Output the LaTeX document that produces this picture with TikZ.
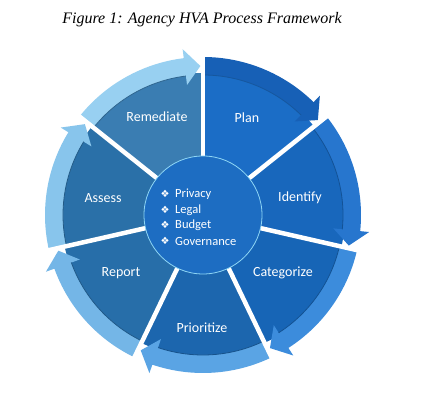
\documentclass[tikz,border=0pt]{standalone}
\usepackage{fontspec}
\setmainfont{Liberation Serif}
\newfontfamily\carlito{Carlito}
\newfontfamily\dejavu{DejaVu Sans}
\definecolor{planB}{HTML}{1B6DC6}
\definecolor{planA}{HTML}{1760B6}
\definecolor{idenB}{HTML}{1867BC}
\definecolor{idenA}{HTML}{2776CE}
\definecolor{cateB}{HTML}{1765B6}
\definecolor{cateA}{HTML}{3C8CDC}
\definecolor{prioB}{HTML}{1C66AE}
\definecolor{prioA}{HTML}{5AA4E4}
\definecolor{repoB}{HTML}{276EA9}
\definecolor{repoA}{HTML}{74B6E7}
\definecolor{asseB}{HTML}{2A70A8}
\definecolor{asseA}{HTML}{88C5EC}
\definecolor{remeB}{HTML}{3A7DB2}
\definecolor{remeA}{HTML}{98D0F1}
\definecolor{hubC}{HTML}{1D6DC2}
\definecolor{ringC}{HTML}{8ED6F5}
\begin{document}
\begin{tikzpicture}[x=1pt,y=1pt,
  lbl/.style={font=\carlito\fontsize{14}{16}\selectfont, text=white, inner sep=0pt},
  item/.style={font=\carlito\fontsize{12.5}{14}\selectfont, text=white, inner sep=0pt, anchor=west},
  bul/.style={font=\dejavu\fontsize{10}{11}\selectfont, text=white, inner sep=0pt},
  gapline/.style={white, line width=4.5pt}]
\useasboundingbox (0,0) rectangle (434,406);
\fill[white] (0,0) rectangle (434,406);
\node[font=\itshape\fontsize{16}{18}\selectfont, anchor=base, inner sep=0pt] (title) at (202,382) {Figure 1: Agency HVA Process Framework};
\begin{scope}[shift={(203,191)}]
\foreach \k/\bc/\ac in {0/planB/planA,1/idenB/idenA,2/cateB/cateA,3/prioB/prioA,4/repoB/repoA,5/asseB/asseA,6/remeB/remeA} {
  \pgfmathsetmacro\ao{90-\k*360/7}
  \pgfmathsetmacro\ai{\ao-360/7}
  \pgfmathsetmacro\ab{\ai+7}
  \pgfmathsetmacro\at{\ai+1}
  \fill[\bc] (0,0) -- (\ao:142pt) arc[start angle=\ao, end angle=\ai, radius=142pt] -- cycle;
  \fill[\ac] (\ao:140pt) -- (\ao:158pt) arc[start angle=\ao, end angle=\ab, radius=158pt]
     -- (\ab:167pt) -- (\at:149pt) -- (\ab:131pt) -- (\ab:140pt)
     arc[start angle=\ab, end angle=\ao, radius=140pt] -- cycle;
  \draw[\bc!80!black, line width=0.8pt] (\ao:140pt) arc[start angle=\ao, end angle=\ab, radius=140pt];
}
\foreach \k in {0,...,6} {
  \pgfmathsetmacro\ao{90-\k*360/7}
  \draw[gapline] (\ao:50pt) -- (\ao:175pt);
}
\node[circle, minimum size=118pt, fill=hubC, draw=ringC, line width=0.8pt] (hub) at (0,0) {};
\end{scope}
\node[lbl] (remediate) at (157,289) {Remediate};
\node[lbl] (plan) at (247,288) {Plan};
\node[lbl] (identify) at (300,208) {Identify};
\node[lbl] (categorize) at (283,133) {Categorize};
\node[lbl] (prioritize) at (202,78) {Prioritize};
\node[lbl] (report) at (121,133) {Report};
\node[lbl] (assess) at (103,208) {Assess};
\node[bul] (b1) at (165,212) {❖};
\node[bul] (b2) at (165,196) {❖};
\node[bul] (b3) at (165,181) {❖};
\node[bul] (b4) at (165,165) {❖};
\node[item] (privacy) at (175,212) {Privacy};
\node[item] (legal) at (175,196) {Legal};
\node[item] (budget) at (175,181) {Budget};
\node[item] (governance) at (175,165) {Governance};
\end{tikzpicture}
\end{document}
